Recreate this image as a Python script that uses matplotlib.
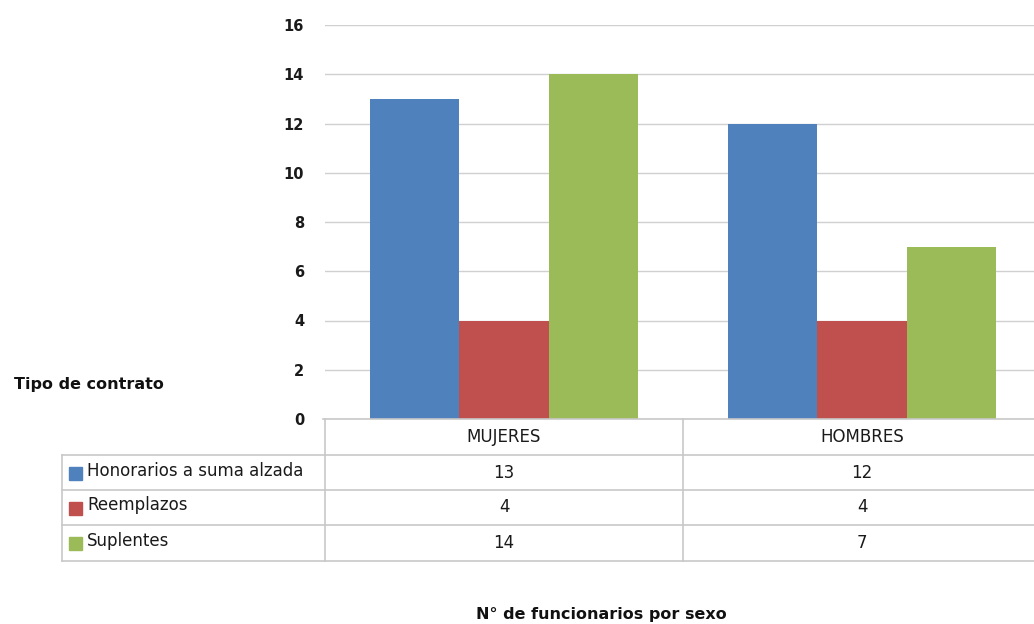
import matplotlib
matplotlib.use("Agg")
import matplotlib.pyplot as plt
from matplotlib.patches import Rectangle

categories = ["MUJERES", "HOMBRES"]
series_names = ["Honorarios a suma alzada", "Reemplazos", "Suplentes"]
honorarios = [13, 12]
reemplazos = [4, 4]
suplentes = [14, 7]
yticks = [0, 2, 4, 6, 8, 10, 12, 14, 16]
colors = ["#4F81BD", "#C0504D", "#9BBB59"]

values = [honorarios, reemplazos, suplentes]

W, H = 1034, 624
plt.rcParams['font.family'] = ['DejaVu Sans']
fig = plt.figure(figsize=(W / 100, H / 100), dpi=100)

def fx(px):
    return px / W

def fy(py):
    return 1 - py / H

# plot area: x 325 -> 1041 (cats -0.5..1.5), y 25 (16) -> 419 (0)
ax = fig.add_axes([fx(325), fy(419), fx(1041) - fx(325), fy(25) - fy(419)])
ax.set_xlim(-0.5, 1.5)
ax.set_ylim(0, 16)
bw = 0.25
for i, (vals, c) in enumerate(zip(values, colors)):
    xs = [k + (i - 1) * bw for k in range(len(categories))]
    ax.bar(xs, vals, width=bw, color=c, zorder=3, linewidth=0)
ax.set_yticks(yticks)
ax.set_yticklabels([str(t) for t in yticks], fontsize=10.5, fontweight='bold',
                   color="#1a1a1a")
ax.tick_params(axis='y', length=0, pad=15)
ax.set_xticks([])
ax.grid(axis='y', color="#D0D0D0", linewidth=1, zorder=0)
for s in ["top", "right", "left", "bottom"]:
    ax.spines[s].set_visible(False)

# table drawn in figure pixel coords
line_c = "#C8C8C8"
tab = fig.add_axes([0, 0, 1, 1], zorder=5)
tab.set_xlim(0, W)
tab.set_ylim(H, 0)
tab.axis('off')
col_x = [325, 683, 1041]
row_y = [419, 455, 490, 525, 561]
left_x = 62
tab.plot([323, 1034], [row_y[0], row_y[0]], color=line_c, lw=1.2)
for y in row_y[1:]:
    tab.plot([left_x, 1034], [y, y], color=line_c, lw=1.2)
tab.plot([left_x, left_x], [row_y[1], row_y[-1]], color=line_c, lw=1.2)
for x in col_x[:2]:
    tab.plot([x, x], [row_y[0], row_y[-1]], color=line_c, lw=1.2)

fs = 12
for k, cat in enumerate(categories):
    cx = (col_x[k] + col_x[k + 1]) / 2
    tab.text(cx, (row_y[0] + row_y[1]) / 2, cat, ha='center', va='center',
             fontsize=fs, color="#1a1a1a")
for i, (name, vals, c) in enumerate(zip(series_names, values, colors)):
    yc = (row_y[i + 1] + row_y[i + 2]) / 2
    tab.add_patch(Rectangle((69, yc - 6), 13, 13, color=c))
    tab.text(87, yc - 2, name, ha='left', va='center', fontsize=fs, color="#1a1a1a")
    for k, v in enumerate(vals):
        cx = (col_x[k] + col_x[k + 1]) / 2
        tab.text(cx, yc, str(v), ha='center', va='center', fontsize=fs, color="#1a1a1a")

tab.text(14, 385, "Tipo de contrato", ha='left', va='center', fontsize=11.5,
         fontweight='bold', color="#111111")
tab.text(601, 614, "N° de funcionarios por sexo", ha='center', va='center', fontsize=11.5,
         fontweight='bold', color="#111111")

fig.savefig("out.png", dpi=100)
